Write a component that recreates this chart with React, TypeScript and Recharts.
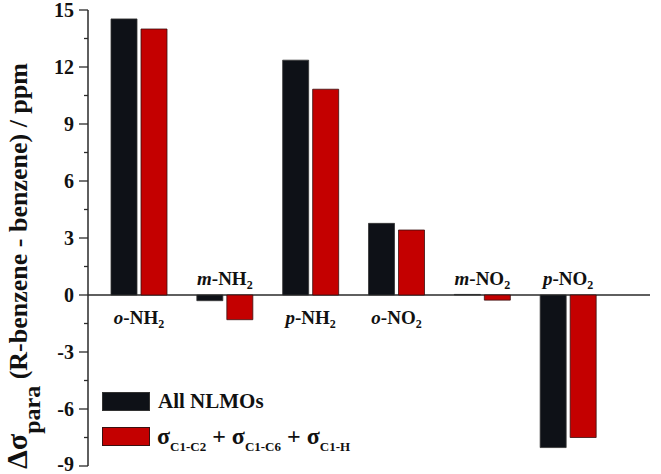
import { BarChart, Bar, XAxis, YAxis, CartesianGrid, Legend, LabelList } from "recharts";

// substituent labels: italic prefix + group + subscript 2
const prefixes = ["o", "m", "p", "o", "m", "p"];
const groups = ["NH", "NH", "NH", "NO", "NO", "NO"];
const allNlmo = [14.53, -0.3, 12.36, 3.77, 0.03, -8.03];
const sigmaSum = [14.0, -1.3, 10.83, 3.42, -0.27, -7.5];
const yTicks = [-9, -7.5, -6, -4.5, -3, -1.5, 0, 1.5, 3, 4.5, 6, 7.5, 9, 10.5, 12, 13.5, 15];

const data = prefixes.map((p, i) => ({
  name: `${p}-${groups[i]}2`,
  all: allNlmo[i],
  sigma: sigmaSum[i],
}));

const SERIF = '"Liberation Serif", "Times New Roman", serif';
const BLACK = "#0e1117";
const RED = "#c40000";
const AXIS = "#2a2a2a";

const YTick = (props: any) => {
  const { x, y, payload } = props;
  const v = payload.value as number;
  const major = v % 3 === 0;
  return (
    <g>
      <line x1={x - (major ? 9 : 4)} x2={x} y1={y} y2={y} stroke={AXIS} strokeWidth={1.3} />
      {major && (
        <text x={x - 14} y={y} dy={v === -9 ? 5 : 6.5} textAnchor="end" fontFamily={SERIF} fontWeight="bold" fontSize={20} fill="#111">
          {String(v)}
        </text>
      )}
    </g>
  );
};

const NameLabel = (props: any) => {
  const { x, y, height, index } = props;
  const zeroY = y + height;
  const above = sigmaSum[index] < 0;
  const cx = x - 2;
  const ty = above ? zeroY - 10 : zeroY + 29;
  return (
    <text x={cx} y={ty} textAnchor="middle" fontFamily={SERIF} fontWeight="bold" fontSize={19} fill="#111">
      <tspan fontStyle="italic">{prefixes[index]}</tspan>
      <tspan>-{groups[index]}</tspan>
      <tspan fontSize={12} dy={4}>2</tspan>
    </text>
  );
};

const YLabel = () => (
  <text
    x={27}
    y={469}
    transform="rotate(-90 27 469)"
    fontFamily={SERIF}
    fontWeight="bold"
    fontSize={26}
    fill="#111"
  >
    <tspan fontSize={30}>Δσ</tspan>
    <tspan fontSize={24} dy={13}>para</tspan>
    <tspan dy={-13}> (R-benzene - benzene) / ppm</tspan>
  </text>
);

const swatch = (color: string, border: string) => (
  <span
    style={{
      display: "inline-block",
      width: 48,
      height: 19,
      background: color,
      border: `1px solid ${border}`,
      boxSizing: "border-box",
    }}
  />
);

const subStyle = { fontSize: 13, verticalAlign: "-7px", lineHeight: 0 } as const;

const LegendBox = () => (
  <div style={{ fontFamily: SERIF, fontWeight: "bold", color: "#111" }}>
    <div style={{ display: "flex", alignItems: "center", height: 19, marginBottom: 16 }}>
      {swatch(BLACK, "#333")}
      <span style={{ marginLeft: 8, fontSize: 21 }}>All NLMOs</span>
    </div>
    <div style={{ display: "flex", alignItems: "center", height: 19 }}>
      {swatch(RED, "#3a1010")}
      <span style={{ marginLeft: 7, fontSize: 24, whiteSpace: "nowrap" }}>
        σ<span style={subStyle}>C1-C2</span> + σ<span style={subStyle}>C1-C6</span> + σ
        <span style={subStyle}>C1-H</span>
      </span>
    </div>
  </div>
);

export default function App() {
  return (
    <div style={{ position: "absolute", left: 0, top: 0, background: "#fff" }}>
      <BarChart
        width={661}
        height={474}
        data={data}
        margin={{ top: 10, right: 11, bottom: 8, left: 0 }}
        barSize={26}
        barGap={4}
      >
        <CartesianGrid vertical={false} horizontalValues={[0]} stroke={AXIS} strokeWidth={1.3} strokeDasharray="" />
        <XAxis dataKey="name" height={0} tick={false} tickLine={false} padding={{ left: 8, right: 39 }} axisLine={{ stroke: AXIS, strokeWidth: 1.5 }} />
        <XAxis xAxisId="top" orientation="top" dataKey="name" height={0} tick={false} tickLine={false} axisLine={{ stroke: AXIS, strokeWidth: 1.5 }} />
        <YAxis
          type="number"
          domain={[-9, 15]}
          ticks={yTicks}
          interval={0}
          width={88}
          tickSize={0}
          tickMargin={0}
          tickLine={false}
          tick={<YTick />}
          axisLine={{ stroke: AXIS, strokeWidth: 1.5 }}
          label={<YLabel />}
          allowDataOverflow
        />
        <YAxis yAxisId="right" orientation="right" width={0} tick={false} tickLine={false} domain={[-9, 15]} axisLine={{ stroke: AXIS, strokeWidth: 1.5 }} />
        <Legend
          layout="horizontal"
          verticalAlign="middle"
          align="center"
          content={<LegendBox />}
          wrapperStyle={{ position: "absolute", left: 102, top: 392, width: 320, height: 60 }}
        />
        <Bar dataKey="all" name="All NLMOs" fill={BLACK} stroke="#333" strokeWidth={0.8} isAnimationActive={false} />
        <Bar dataKey="sigma" name="σC1-C2 + σC1-C6 + σC1-H" fill={RED} stroke="#3a1010" strokeWidth={0.8} isAnimationActive={false}>
          <LabelList dataKey="name" content={<NameLabel />} />
        </Bar>
      </BarChart>
    </div>
  );
}
